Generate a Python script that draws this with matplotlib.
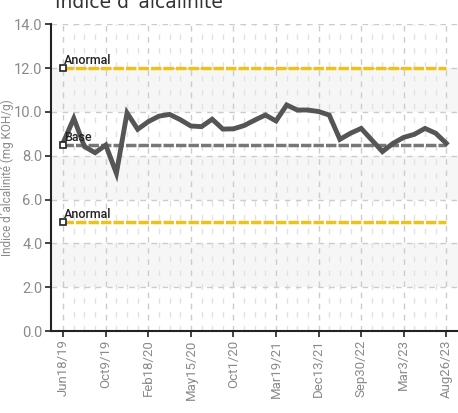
import numpy as np
import matplotlib
matplotlib.use('Agg')
import matplotlib.pyplot as plt

# Data
dates = ['Jun18/19', 'Oct9/19', 'Feb18/20', 'May15/20', 'Oct1/20',
         'Mar19/21', 'Dec13/21', 'Sep30/22', 'Mar3/23', 'Aug26/23']
values = [8.6, 9.71, 8.42, 8.14, 8.49, 7.2, 9.96, 9.21, 9.56, 9.81,
          9.89, 9.65, 9.36, 9.33, 9.67, 9.22, 9.23, 9.38, 9.63, 9.86,
          9.59, 10.32, 10.09, 10.09, 10.02, 9.86, 8.75, 9.03, 9.25, 8.72,
          8.19, 8.57, 8.84, 8.98, 9.25, 9.03, 8.57]
limit_high = 12.0
base = 8.5
limit_low = 5.0

x = np.arange(len(values))
tick_idx = np.arange(0, len(values), 4)

fig = plt.figure(figsize=(4.58, 4.13), dpi=100)
ax = fig.add_axes([0.111, 0.1985, 0.889, 0.7425])

narrow = ['Roboto', 'DejaVu Sans']
gray_txt = '#8a8a8a'

# background bands
for lo in (2, 6, 10):
    ax.axhspan(lo, lo + 2, color='#f6f6f6', zorder=0, lw=0)

# grid
for xi in x:
    major = xi % 4 == 0
    ax.axvline(xi, color='#cccccc' if major else '#e2e2e2', lw=1,
               ls=(0, (4, 4)) if major else (0, (4, 6)), zorder=1)
for yv in np.arange(0, 15, 2):
    ax.axhline(yv, color='#cccccc', lw=1, ls=(0, (4, 4)), zorder=1)

# reference lines
for val, col, lab in [(limit_high, '#f5c400', 'Anormal'),
                      (base, '#777777', 'Base'),
                      (limit_low, '#f5c400', 'Anormal')]:
    ax.plot([x[0], x[-1]], [val, val], color=col, lw=2.5,
            ls=(0, (3, 0.6)), zorder=2)
    ax.plot(x[0], val, marker='s', ms=5, mfc='white', mec='#222222',
            mew=1.2, zorder=4)
    ax.text(x[0] + 0.05, val + 0.18, lab, fontsize=9, color='#222222',
            family=narrow, fontweight='medium', zorder=5)

ax.plot(x, values, color='#555555', lw=3.5, zorder=3,
        solid_joinstyle='miter')

ax.set_xlim(-1.16, 37.1)
ax.set_ylim(0, 14)
ax.set_yticks(np.arange(0, 15, 2))
ax.set_yticklabels([f'{v:.1f}' for v in np.arange(0, 15, 2)],
                   family=narrow, fontsize=10.5, color=gray_txt)
ax.set_xticks(tick_idx)
ax.set_xticklabels(dates, rotation=90, family=narrow, fontsize=9.5,
                   color=gray_txt)
ax.set_ylabel('Indice d´alcalinité (mg KOH/g)', family=narrow,
              fontsize=8.5, color=gray_txt)
ax.yaxis.set_label_coords(-0.091, 0.5)

for s in ('top', 'right'):
    ax.spines[s].set_visible(False)
for s in ('left', 'bottom'):
    ax.spines[s].set_color('#222222')
    ax.spines[s].set_linewidth(1.5)
ax.tick_params(direction='out', length=4, width=1.2, color='#222222', pad=2)
ax.set_facecolor('white')

fig.text(0.12, 1 - 8 / 413, 'Indice d´alcalinité', fontsize=13.5,
         color='#333333', family='DejaVu Sans', va='baseline', ha='left')

fig.savefig('out.png', dpi=100)
